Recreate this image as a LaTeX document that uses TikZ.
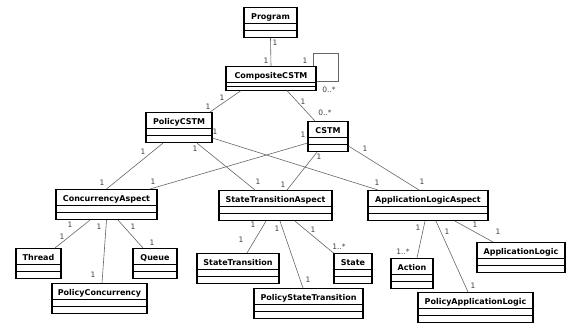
\documentclass[tikz,border=0pt]{standalone}
\usepackage{fontspec}
\setmainfont{DejaVu Sans}

\begin{document}
\begin{tikzpicture}[
  x=1pt, y=-1pt,
  cls/.style={rectangle, draw, line width=1.1pt, anchor=north,
    font=\bfseries\fontsize{8}{9}\selectfont, text height=8.5pt, text depth=15.5pt,
    inner xsep=2pt, inner ysep=3pt,
    path picture={
      \draw[line width=0.8pt] ([yshift=-16pt]path picture bounding box.north west) -- ([yshift=-16pt]path picture bounding box.north east);
      \draw[line width=0.8pt] ([yshift=-22.5pt]path picture bounding box.north west) -- ([yshift=-22.5pt]path picture bounding box.north east);
    }},
  clsshort/.style={rectangle, draw, line width=1.1pt, anchor=north,
    font=\bfseries\fontsize{8}{9}\selectfont, text height=8.5pt, text depth=9pt,
    inner xsep=2pt, inner ysep=3pt,
    path picture={
      \draw[line width=0.8pt] ([yshift=-16pt]path picture bounding box.north west) -- ([yshift=-16pt]path picture bounding box.north east);
      \draw[line width=0.8pt] ([yshift=-19.5pt]path picture bounding box.north west) -- ([yshift=-19.5pt]path picture bounding box.north east);
    }},
  assoc/.style={draw=black!60, line width=0.6pt},
  mult/.style={font=\fontsize{7.5}{8}\selectfont, text=black!75, inner sep=0pt}
]
\useasboundingbox (0,0) rectangle (566,325);

\node[cls, minimum width=53pt]  (prog) at (270.5, 7)  {Program};
\node[clsshort, minimum width=90pt] (comp) at (271, 66) {CompositeCSTM};
\node[cls, minimum width=66pt]  (pol)  at (179, 112)  {PolicyCSTM};
\node[cls, minimum width=40pt]  (cstm) at (328, 121)  {CSTM};

\node[cls, minimum width=101pt] (conc) at (106.5, 189) {ConcurrencyAspect};
\node[cls, minimum width=113pt] (sta)  at (275.5, 190) {StateTransitionAspect};
\node[cls, minimum width=120pt] (ala)  at (428, 190)   {ApplicationLogicAspect};

\node[cls, minimum width=45pt]  (thr)   at (38.5, 248)  {Thread};
\node[cls, minimum width=44pt]  (queue) at (155, 248)   {Queue};
\node[cls, minimum width=95pt]  (pcon)  at (99.5, 283)  {PolicyConcurrency};
\node[cls, minimum width=82pt]  (strn)  at (238, 253)   {StateTransition};
\node[cls, minimum width=38pt]  (state) at (353, 253)   {State};
\node[cls, minimum width=109pt] (pst)   at (308.5, 288) {PolicyStateTransition};
\node[cls, minimum width=42pt]  (act)   at (412, 258)   {Action};
\node[cls, minimum width=88pt]  (alog)  at (521, 242)   {ApplicationLogic};
\node[cls, minimum width=115pt] (pal)   at (475.5, 292) {PolicyApplicationLogic};

% top part
\draw[assoc] (prog.south) -- (comp.north);
\draw[assoc] ([xshift=-3pt]comp.north east) -- ++(0,-13) -| ([xshift=22pt,yshift=-2.5pt]comp.east) -- ([yshift=-2.5pt]comp.east);
\draw[assoc] ([xshift=-30pt]comp.south) -- ([xshift=31pt]pol.north);
\draw[assoc] ([xshift=16pt]comp.south) -- ([xshift=-13pt]cstm.north);

% aspects
\draw[assoc] ([xshift=-16pt]pol.south) -- (conc.north);
\draw[assoc] ([yshift=-6.5pt]cstm.west) -- ([xshift=43.5pt]conc.north);
\draw[assoc] ([xshift=18pt]pol.south) -- ([xshift=-20.5pt]sta.north);
\draw[assoc] ([xshift=-11pt]cstm.south) -- ([xshift=11.5pt]sta.north);
\draw[assoc] ([yshift=-10.5pt]pol.east) -- ([xshift=-50pt]ala.north);
\draw[assoc] ([yshift=-9.5pt]cstm.east) -- ([xshift=-9pt]ala.north);

% leaves
\draw[assoc] ([xshift=-16.5pt]conc.south) -- ([xshift=16.5pt]thr.north);
\draw[assoc] (conc.south) -- ([xshift=2.5pt]pcon.north);
\draw[assoc] ([xshift=11.5pt]conc.south) -- ([xshift=-12pt]queue.north);
\draw[assoc] ([xshift=-9.5pt]sta.south) -- ([xshift=9pt]strn.north);
\draw[assoc] ([xshift=4.5pt]sta.south) -- ([xshift=-5.5pt]pst.north);
\draw[assoc] ([xshift=19.5pt]sta.south) -- (state.north west);
\draw[assoc] ([xshift=-3pt]ala.south) -- ([xshift=5pt]act.north);
\draw[assoc] ([xshift=8pt]ala.south) -- ([xshift=-7.5pt]pal.north);
\draw[assoc] ([xshift=27pt]ala.south) -- ([xshift=-28pt]alog.north);

% multiplicities
\node[mult] (m1a) at (275, 43) {1};
\node[mult] (m1b) at (266, 61) {1};
\node[mult] (m2a) at (305, 61) {1};
\node[mult] (m2b) at (329, 90) {0..*};
\node[mult] (m3a) at (222, 98) {1};
\node[mult] (m3b) at (208, 107) {1};
\node[mult] (m4a) at (303, 102) {1};
\node[mult] (m4b) at (325, 113) {0..*};
\node[mult] (m5a) at (143, 152) {1};
\node[mult] (m5b) at (102, 183) {1};
\node[mult] (m6a) at (303, 135) {1};
\node[mult] (m6b) at (153, 182) {1};
\node[mult] (m7a) at (195, 149) {1};
\node[mult] (m7b) at (258, 182) {1};
\node[mult] (m8a) at (319, 157) {1};
\node[mult] (m8b) at (283, 185) {1};
\node[mult] (m9a) at (215, 132) {1};
\node[mult] (m9b) at (377, 183) {1};
\node[mult] (m10a) at (365, 149) {1};
\node[mult] (m10b) at (422, 182) {1};
\node[mult] (m11a) at (70, 225) {1};
\node[mult] (m11b) at (62, 237) {1};
\node[mult] (m12a) at (99, 227) {1};
\node[mult] (m12b) at (93, 275) {1};
\node[mult] (m13a) at (133, 227) {1};
\node[mult] (m13b) at (152, 243) {1};
\node[mult] (m14a) at (253, 225) {1};
\node[mult] (m14b) at (241, 240) {1};
\node[mult] (m15a) at (277, 229) {1};
\node[mult] (m15b) at (308, 280) {1};
\node[mult] (m16a) at (313, 230) {1};
\node[mult] (m16b) at (339, 247) {1..*};
\node[mult] (m17a) at (418, 228) {1};
\node[mult] (m17b) at (403, 252) {1..*};
\node[mult] (m18a) at (447, 232) {1};
\node[mult] (m18b) at (473, 286) {1};
\node[mult] (m19a) at (475, 225) {1};
\node[mult] (m19b) at (498, 232) {1};

\end{tikzpicture}
\end{document}
